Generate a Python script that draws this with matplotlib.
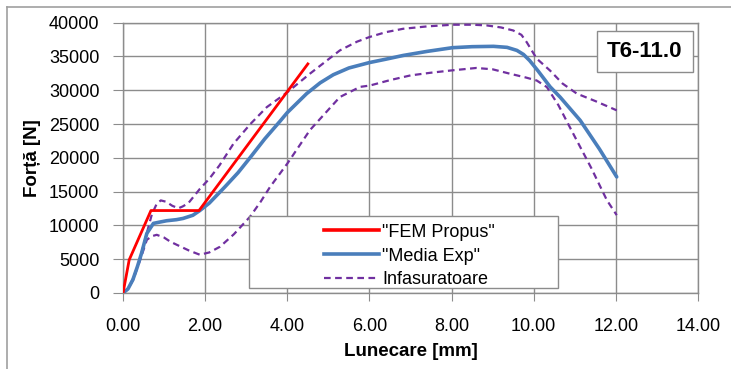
import matplotlib.pyplot as plt
from matplotlib.patches import Rectangle
from matplotlib.lines import Line2D

plt.rcParams['font.family'] = ['Liberation Sans', 'DejaVu Sans']

# "FEM Propus"
fem_x = [0.0, 0.15, 0.68, 1.85, 4.5]
fem_y = [0, 4900, 12200, 12200, 33900]

# "Media Exp"
med_x = [0.0, 0.12, 0.24, 0.35, 0.45, 0.58, 0.74, 0.9, 1.06, 1.3, 1.46, 1.7, 1.87, 2.1, 2.48,
         2.8, 3.09, 3.45, 3.82, 4.0, 4.47, 4.8, 5.12, 5.5, 6.0, 6.4, 6.82, 7.4, 8.02, 8.5, 9.02, 9.35, 9.59,
         9.75, 9.9, 10.1, 10.4, 10.64, 11.13, 11.6, 12.02]
med_y = [0, 600, 1970, 3900, 5860, 8820, 10300, 10500, 10690, 10850, 11030, 11500, 12200, 13300, 15700,
         17800, 20000, 22800, 25400, 26700, 29500, 31100, 32300, 33300, 34100, 34600, 35150, 35750, 36300, 36450, 36500, 36350, 35900,
         35300, 34400, 32900, 30500, 29000, 25550, 21300, 17180]

# Infasuratoare (upper)
up_x = [0.0, 0.12, 0.25, 0.4, 0.55, 0.7, 0.82, 0.92, 1.05, 1.2, 1.35, 1.45, 1.59, 1.87, 2.1,
        2.35, 2.69, 3.1, 3.5, 4.0, 4.55, 5.28, 5.7, 6.01, 6.4, 6.82, 7.4, 8.02, 8.5, 8.85,
        9.2, 9.5, 9.7, 9.83, 10.07, 10.4, 10.7, 11.05, 11.5, 12.02]
up_y = [0, 600, 2200, 4800, 8200, 11600, 13200, 13700, 13500, 12900, 12540, 12800, 13290, 15400, 16900,
        18900, 22100, 25000, 27500, 29700, 32450, 35900, 37200, 37900, 38600, 39100, 39450, 39700, 39700, 39600,
        39300, 38850, 38200, 37100, 34700, 32900, 31000, 29500, 28400, 27030]

# Infasuratoare (lower)
lo_x = [0.0, 0.12, 0.25, 0.4, 0.5, 0.58, 0.7, 0.82, 1.0, 1.15, 1.31, 1.6, 1.87, 2.1, 2.36,
        2.7, 3.09, 3.35, 3.58, 4.0, 4.55, 5.28, 5.77, 6.01, 6.5, 7.0, 7.5, 8.02, 8.6, 9.0,
        9.42, 9.8, 10.07, 10.32, 10.6, 10.96, 11.4, 11.78, 12.02]
lo_y = [0, 600, 2000, 4600, 6400, 7870, 8400, 8610, 8200, 7600, 7130, 6300, 5660, 6000, 6840,
        8700, 11270, 13500, 15700, 19150, 24100, 29000, 30500, 30700, 31500, 32200, 32600, 32950, 33300, 33100,
        32450, 31900, 31450, 30470, 27800, 23590, 18500, 13740, 11520]

xticks = [0, 2, 4, 6, 8, 10, 12, 14]
yticks = [0, 5000, 10000, 15000, 20000, 25000, 30000, 35000, 40000]

red = '#FF0000'
blue = '#4A7EBB'
purple = '#7030A0'
grid = '#8C8C8C'

fig = plt.figure(figsize=(7.31, 3.69), dpi=100)
ax = fig.add_axes([0.1683, 0.206, 0.7866, 0.7325])

ax.plot(lo_x, lo_y, color=purple, lw=1.6, ls=(0, (3, 2)), zorder=3)
ax.plot(up_x, up_y, color=purple, lw=1.6, ls=(0, (3, 2)), zorder=3)
ax.plot(med_x, med_y, color=blue, lw=2.6, zorder=4, solid_capstyle='round')
ax.plot(fem_x, fem_y, color=red, lw=2.0, zorder=4)

ax.set_xlim(0, 14)
ax.set_ylim(0, 40000)
ax.set_xticks(xticks)
ax.set_xticklabels(['%.2f' % v for v in xticks])
ax.set_yticks(yticks)
ax.grid(True, color=grid, lw=1.0)
ax.set_axisbelow(True)
for s in ax.spines.values():
    s.set_color(grid)
    s.set_linewidth(1.0)
ax.tick_params(axis='x', length=6, color=grid, labelsize=13, pad=12)
ax.tick_params(axis='y', length=7, color=grid, labelsize=13, pad=10)

ax.set_xlabel('Lunecare [mm]', fontsize=13.5, fontweight='bold', labelpad=6)
ax.set_ylabel('Forță [N]', fontsize=13.5, fontweight='bold', labelpad=6)

# legend box (Excel style, handles pushed to the right)
ax.add_patch(Rectangle((0.219, 0.0185), 0.538, 0.2665, transform=ax.transAxes,
                       facecolor='white', edgecolor=grid, lw=1.0, zorder=6))
handles = [Line2D([], [], color=red, lw=2.6),
           Line2D([], [], color=blue, lw=2.6),
           Line2D([], [], color=purple, lw=1.6, ls=(0, (3, 2)))]
leg = ax.legend(handles, ['"FEM Propus"', '"Media Exp"', 'Infasuratoare'],
                loc='upper left', bbox_to_anchor=(0.325, 0.31), frameon=False,
                fontsize=13, handlelength=3.0, handletextpad=0.2, labelspacing=0.38,
                borderpad=0.3)
leg.set_zorder(7)

# specimen label
ax.add_patch(Rectangle((0.824, 0.818), 0.167, 0.151, transform=ax.transAxes,
                       facecolor='white', edgecolor=grid, lw=1.0, zorder=6))
ax.text(0.9075, 0.8935, 'T6-11.0', transform=ax.transAxes, ha='center', va='center',
        fontsize=16, fontweight='bold', zorder=7)

# outer chart frame (top and left edges visible)
fig.add_artist(Line2D([0.0096, 1.0], [0.981, 0.981], color='#A0A0A0', lw=1.2))
fig.add_artist(Line2D([0.0096, 0.0096], [0.0, 0.981], color='#A0A0A0', lw=1.2))

fig.savefig('out.png', dpi=100)
